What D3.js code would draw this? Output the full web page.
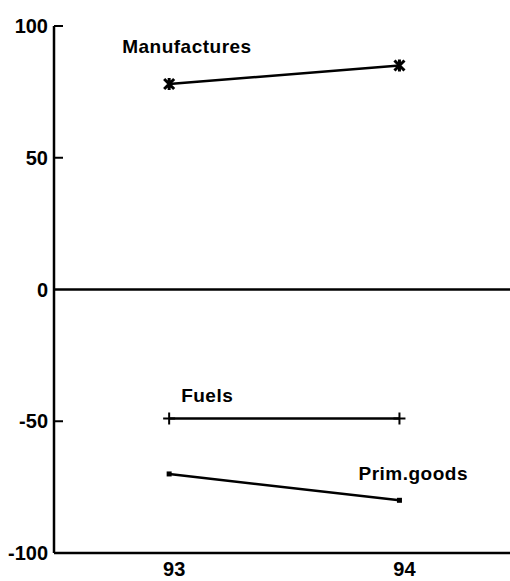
<!DOCTYPE html>
<html lang="en">
<head>
    <meta charset="UTF-8">
    <script src="https://d3js.org/d3.v7.min.js"></script>
    <title>trade balance</title>
    <style>
        body { margin: 0; background: #fff; }
        text { font-family: "Liberation Sans", Arial, sans-serif; font-weight: bold; fill: #000; }
    </style>
</head>
<body>
<script>
    var width = 510;
    var height = 581;

    // data
    var years = [93, 94];
    var manufactures = [78, 85];
    var fuels = [-49, -49];
    var primGoods = [-70, -80];
    var yTicks = [100, 50, 0, -50, -100];

    var svg = d3.select("body").append("svg").attr("width", width).attr("height", height);

    var x = d3.scaleLinear().domain([92.5, 94.48]).range([54, 510]);
    var y = d3.scaleLinear().domain([-100, 100]).range([553, 26]);

    // axes
    var g = svg.append("g");
    g.append("line")
        .attr("x1", x(92.5)).attr("x2", x(92.5))
        .attr("y1", y(100)).attr("y2", y(-100))
        .attr("stroke", "#000").attr("stroke-width", 2.5);
    g.append("line")
        .attr("x1", x(92.5)).attr("x2", width)
        .attr("y1", y(-100)).attr("y2", y(-100))
        .attr("stroke", "#000").attr("stroke-width", 2.5);
    g.append("line")
        .attr("x1", x(92.5)).attr("x2", width)
        .attr("y1", y(0)).attr("y2", y(0))
        .attr("stroke", "#000").attr("stroke-width", 2.5);

    //y ticks
    g.selectAll(".ytick")
        .data(yTicks.filter(function(d){ return d != 0 && d != -100; }))
        .enter()
        .append("line")
        .attr("x1", x(92.5)).attr("x2", x(92.5) + 9)
        .attr("y1", function(d){ return y(d); })
        .attr("y2", function(d){ return y(d); })
        .attr("stroke", "#000").attr("stroke-width", 2);

    g.selectAll(".ylab")
        .data(yTicks)
        .enter()
        .append("text")
        .attr("x", x(92.5) - 6)
        .attr("y", function(d){ return y(d); })
        .attr("dy", "0.36em")
        .attr("text-anchor", "end")
        .style("font-size", "20px")
        .text(function(d){ return d; });

    g.selectAll(".xlab")
        .data(years)
        .enter()
        .append("text")
        .attr("x", function(d){ return x(d) + 5; })
        .attr("y", y(-100) + 23)
        .attr("text-anchor", "middle")
        .style("font-size", "20px")
        .text(function(d){ return d; });

    var line = d3.line()
        .x(function(d, i){ return x(years[i]); })
        .y(function(d){ return y(d); });

    [manufactures, fuels, primGoods].forEach(function(s){
        svg.append("path")
            .attr("d", line(s))
            .attr("fill", "none")
            .attr("stroke", "#000")
            .attr("stroke-width", 2.5);
    });

    // markers
    var mk = svg.append("g").attr("stroke", "#000");
    manufactures.forEach(function(v, i){
        var cx = x(years[i]), cy = y(v), r = 5;
        mk.append("path")
            .attr("d", "M" + (cx - r) + "," + (cy - r) + "L" + (cx + r) + "," + (cy + r) +
                       "M" + (cx - r) + "," + (cy + r) + "L" + (cx + r) + "," + (cy - r) +
                       "M" + cx + "," + (cy - r - 1) + "L" + cx + "," + (cy + r + 1))
            .attr("stroke-width", 3);
    });
    fuels.forEach(function(v, i){
        var cx = x(years[i]), cy = y(v), r = 6;
        mk.append("path")
            .attr("d", "M" + (cx - r) + "," + cy + "L" + (cx + r) + "," + cy +
                       "M" + cx + "," + (cy - r) + "L" + cx + "," + (cy + r))
            .attr("stroke-width", 2);
    });
    primGoods.forEach(function(v, i){
        mk.append("rect")
            .attr("x", x(years[i]) - 2.5).attr("y", y(v) - 2.5)
            .attr("width", 5).attr("height", 5)
            .attr("fill", "#000").attr("stroke", "none");
    });

    // series labels
    svg.append("text")
        .attr("x", x(93) - 47).attr("y", y(manufactures[0]) - 31)
        .style("font-size", "19px").style("letter-spacing", "0.5px")
        .text("Manufactures");
    svg.append("text")
        .attr("x", x(93) + 12).attr("y", y(fuels[0]) - 17)
        .style("font-size", "19px").style("letter-spacing", "0.5px")
        .text("Fuels");
    svg.append("text")
        .attr("x", x(94) - 41).attr("y", y(primGoods[1]) - 20)
        .style("font-size", "19px").style("letter-spacing", "0.5px")
        .text("Prim.goods");
</script>
</body>
</html>
